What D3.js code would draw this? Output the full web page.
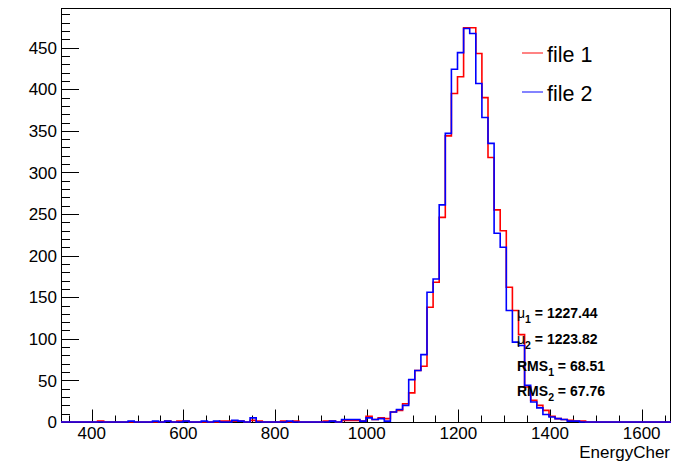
<!DOCTYPE html>
<html><head><meta charset="utf-8">
<script src="https://cdn.jsdelivr.net/npm/d3@7"></script>
<style>
body{margin:0;background:#fff}
svg{display:block}
text{font-family:"Liberation Sans",Arial,Helvetica,sans-serif}
</style>
</head><body>
<svg id="chart" width="697" height="463"></svg>
<script>
// ---- data ----
const binRange = [333, 1664];
const nBins = 100;
const file1 = [
  0,0,0,0,0,0,1,0,0,0,
  0,0,0,0,0,0,0,1,0,1,
  1,0,0,0,0,0,1,1,1,1,
  0,2,1,0,0,0,1,0,1,0,
  0,0,0,1,1,0,2,2,2,1,
  7,3,5,4,12,14,22,35,62,67,
  138,168,246,344,395,415,474,474,443,390,
  318,255,230,162,134,105,42,26,20,14,
  7,4,3,2,1,1,0,0,0,0,
  0,0,0,0,0,0,0,0,0,0
];
const file2 = [
  0,0,0,0,0,0,0,0,0,0,
  0,1,0,0,0,1,0,1,0,0,
  1,0,0,1,0,1,0,0,2,1,
  0,5,0,0,0,0,0,1,0,0,
  0,0,0,0,1,0,3,3,3,1,
  5,3,4,1,12,15,20,51,62,81,
  156,172,261,347,424,444,473,467,407,366,
  335,227,210,134,96,92,44,24,17,9,
  6,4,3,1,1,0,0,0,0,0,
  0,0,0,0,0,0,0,0,0,0
];
const seriesNames = ["file 1", "file 2"];
const seriesColors = ["#ff0000", "#0000ff"];
const xMajorTicks = [400, 600, 800, 1000, 1200, 1400, 1600];
const yMajorTicks = [0, 50, 100, 150, 200, 250, 300, 350, 400, 450];
const xTitle = "EnergyCher";
const statLabels = [
  {sym: "μ", sub: "1", text: " = 1227.44"},
  {sym: "μ", sub: "2", text: " = 1223.82"},
  {sym: "RMS", sub: "1", text: " = 68.51"},
  {sym: "RMS", sub: "2", text: " = 67.76"}
];

// ---- layout ----
const frame = {left: 61, right: 671, top: 8, bottom: 422};
const svg = d3.select("#chart");

const yMax = d3.max(file1) * 1.05;
const x = d3.scaleLinear().domain(binRange).range([frame.left, frame.right]);
const y = d3.scaleLinear().domain([0, yMax]).range([frame.bottom, frame.top]);
const binW = (binRange[1] - binRange[0]) / nBins;

// frame
svg.append("rect")
  .attr("x", frame.left + 0.5).attr("y", frame.top + 0.5)
  .attr("width", frame.right - frame.left - 1).attr("height", frame.bottom - frame.top)
  .attr("fill", "none").attr("stroke", "#000").attr("stroke-width", 1);

// ticks
const g = svg.append("g").attr("stroke", "#000").attr("stroke-width", 1);
d3.range(0, yMax, 10).forEach(v => {
  const major = v % 50 === 0;
  const yy = Math.round(y(v)) + 0.5;
  g.append("line").attr("x1", frame.left).attr("x2", frame.left + (major ? 18 : 9))
    .attr("y1", yy).attr("y2", yy);
});
d3.range(350, binRange[1], 50).forEach(v => {
  const major = v % 200 === 0;
  const xx = Math.round(x(v)) + 0.5;
  g.append("line").attr("x1", xx).attr("x2", xx)
    .attr("y1", frame.bottom).attr("y2", frame.bottom - (major ? 12.5 : 6.5));
});

// tick labels
svg.append("g").selectAll("text").data(yMajorTicks).join("text")
  .attr("x", 57).attr("y", d => y(d)).attr("dy", "0.36em")
  .attr("text-anchor", "end").attr("font-size", 17).attr("fill", "#000")
  .text(d => d);
svg.append("g").selectAll("text").data(xMajorTicks).join("text")
  .attr("x", d => x(d)).attr("y", 439)
  .attr("text-anchor", "middle").attr("font-size", 17).attr("fill", "#000")
  .text(d => d);
svg.append("text").attr("x", 670).attr("y", 458).attr("text-anchor", "end")
  .attr("font-size", 17).attr("fill", "#000").text(xTitle);

// histograms
function stepPoints(counts) {
  const pts = [[binRange[0], 0]];
  counts.forEach((c, i) => {
    pts.push([binRange[0] + i * binW, c]);
    pts.push([binRange[0] + (i + 1) * binW, c]);
  });
  pts.push([binRange[1], 0]);
  return pts;
}
const line = d3.line().x(d => x(d[0])).y(d => y(d[1]));
[file1, file2].forEach((s, i) => {
  svg.append("path").attr("d", line(stepPoints(s)))
    .attr("fill", "none").attr("stroke", seriesColors[i]).attr("stroke-width", 1.6);
});

// legend
const legY = [53, 92];
seriesNames.forEach((n, i) => {
  svg.append("line").attr("x1", 522).attr("x2", 543).attr("y1", legY[i]).attr("y2", legY[i])
    .attr("stroke", seriesColors[i]).attr("stroke-width", 1.3).attr("opacity", 0.75);
  svg.append("text").attr("x", 547).attr("y", legY[i] + 8.5)
    .attr("font-size", 21.5).attr("fill", "#000").text(n);
});

// stats text
const statY = [318, 344, 371, 396];
statLabels.forEach((s, i) => {
  const t = svg.append("text").attr("x", 517).attr("y", statY[i])
    .attr("font-size", 14).attr("fill", "#000");
  t.append("tspan").attr("font-weight", s.sym === "μ" ? "normal" : "bold").text(s.sym);
  t.append("tspan").attr("font-size", 10.5).attr("font-weight", "bold").attr("dy", 5).text(s.sub);
  t.append("tspan").attr("font-weight", "bold").attr("dy", -5).text(s.text);
});
</script>
</body></html>
